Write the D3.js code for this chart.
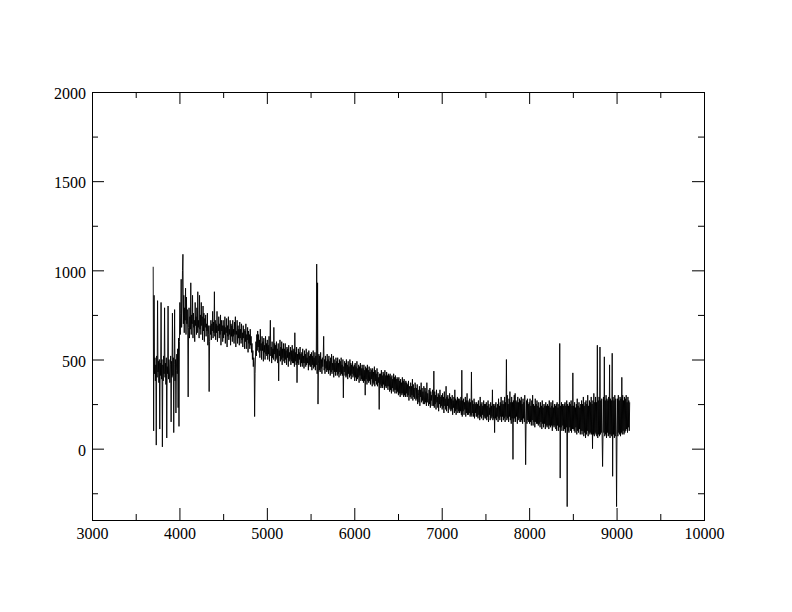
<!DOCTYPE html>
<html>
<head>
<meta charset="utf-8">
<script src="https://cdn.jsdelivr.net/npm/d3@7"></script>
<style>
  html, body { margin: 0; padding: 0; background: #fff; }
  svg { display: block; }
  svg text { font-family: "Liberation Serif", "Times New Roman", Times, serif !important; font-size: 16px; }
</style>
</head>
<body>
<svg id="chart" width="792" height="612"></svg>
<script>
// ---- data ----
const lambdaStart = 3700;   // first wavelength sample (Å)
const lambdaStep = 5;       // sample spacing (Å)
const flux = [
  // 3700
  1020, 100, 860, 420, 510, 380, 470, 20, 520, 400, 830, 430, 490, 370, 500, 110, 480, 410, 820, 390,
  // 3800
  500, 10, 470, 380, 520, 420, 790, 400, 480, 360, 510, 60, 460, 420, 800, 390, 500, 430, 370, 470,
  // 3900
  520, 150, 490, 400, 760, 410, 510, 90, 470, 780, 380, 500, 200, 440, 530, 420, 560, 230, 620, 125,
  // 4000
  600, 820, 640, 760, 950, 680, 800, 1000, 1090, 700, 860, 650, 790, 720, 900, 640, 850, 700, 780, 660,
  // 4100
  290, 680, 790, 620, 740, 670, 930, 640, 750, 700, 860, 620, 760, 680, 720, 600, 820, 690, 740, 640,
  // 4200
  790, 650, 880, 680, 720, 620, 860, 670, 750, 640, 820, 690, 740, 610, 800, 660, 760, 600, 730, 680,
  // 4300
  750, 630, 700, 660, 760, 580, 690, 640, 320, 600, 690, 640, 720, 610, 700, 660, 770, 620, 710, 650,
  // 4400
  880, 630, 720, 610, 700, 650, 770, 600, 690, 660, 740, 620, 700, 640, 750, 580, 720, 660, 690, 600,
  // 4500
  720, 620, 690, 640, 740, 590, 680, 650, 730, 570, 690, 630, 740, 610, 670, 640, 720, 580, 700, 630,
  // 4600
  690, 600, 720, 630, 670, 590, 710, 640, 740, 570, 660, 640, 720, 590, 690, 620, 670, 580, 710, 620,
  // 4700
  670, 590, 700, 610, 650, 570, 690, 620, 670, 560, 660, 600, 700, 560, 640, 610, 680, 540, 660, 590,
  // 4800
  640, 560, 670, 580, 630, 540, 590, 500, 550, 460, 510, 480, 180, 420, 520, 600, 520, 640, 550, 660,
  // 4900
  570, 640, 540, 610, 510, 670, 550, 590, 500, 630, 550, 600, 490, 620, 540, 580, 500, 630, 530, 590,
  // 5000
  520, 610, 500, 580, 530, 630, 490, 590, 720, 520, 570, 480, 600, 510, 560, 500, 680, 530, 590, 490,
  // 5100
  580, 500, 600, 510, 560, 480, 590, 380, 550, 520, 610, 490, 570, 500, 600, 470, 560, 510, 590, 490,
  // 5200
  560, 480, 590, 500, 550, 470, 570, 510, 560, 460, 580, 490, 540, 500, 570, 470, 550, 490, 580, 480,
  // 5300
  550, 480, 560, 460, 650, 490, 540, 470, 570, 370, 530, 480, 560, 470, 540, 500, 570, 460, 530, 480,
  // 5400
  540, 460, 560, 480, 520, 450, 550, 480, 530, 460, 560, 470, 510, 480, 540, 440, 550, 470, 520, 460,
  // 5500
  530, 460, 540, 440, 520, 470, 550, 450, 510, 460, 540, 440, 520, 470, 1035, 420, 930, 250, 480, 530,
  // 5600
  440, 520, 430, 540, 450, 500, 420, 510, 460, 520, 630, 440, 500, 420, 520, 450, 490, 430, 530, 440,
  // 5700
  500, 420, 520, 440, 490, 410, 510, 430, 530, 420, 480, 440, 520, 400, 500, 430, 480, 410, 510, 430,
  // 5800
  490, 410, 510, 420, 480, 400, 500, 430, 490, 410, 510, 420, 470, 410, 500, 285, 460, 430, 490, 410,
  // 5900
  480, 400, 500, 410, 470, 390, 490, 420, 460, 400, 500, 410, 480, 390, 470, 420, 490, 400, 460, 410,
  // 6000
  470, 380, 480, 400, 460, 380, 490, 390, 450, 400, 470, 370, 460, 410, 480, 380, 450, 390, 470, 380,
  // 6100
  450, 370, 470, 380, 440, 300, 460, 390, 450, 360, 470, 380, 440, 370, 460, 380, 430, 360, 450, 390,
  // 6200
  440, 350, 450, 370, 430, 360, 460, 350, 440, 380, 420, 360, 450, 350, 430, 370, 400, 220, 420, 360,
  // 6300
  420, 340, 440, 350, 410, 340, 430, 360, 420, 330, 440, 350, 410, 340, 430, 350, 410, 330, 420, 350,
  // 6400
  410, 320, 420, 330, 400, 310, 410, 340, 390, 320, 420, 330, 400, 310, 410, 330, 390, 310, 400, 320,
  // 6500
  390, 300, 400, 310, 380, 290, 390, 310, 370, 300, 400, 310, 380, 290, 390, 300, 370, 290, 380, 310,
  // 6600
  370, 290, 360, 300, 380, 270, 350, 330, 290, 370, 280, 350, 300, 390, 270, 360, 290, 340, 280, 370,
  // 6700
  350, 270, 340, 280, 360, 250, 330, 300, 260, 350, 240, 330, 290, 370, 260, 340, 270, 320, 250, 350,
  // 6800
  330, 250, 340, 260, 320, 240, 370, 260, 310, 280, 240, 330, 250, 340, 230, 320, 270, 300, 240, 330,
  // 6900
  310, 240, 435, 230, 320, 250, 300, 220, 330, 260, 290, 230, 310, 210, 300, 250, 330, 230, 290, 240,
  // 7000
  300, 220, 310, 230, 290, 200, 320, 240, 280, 220, 350, 210, 290, 240, 300, 200, 280, 230, 310, 220,
  // 7100
  290, 210, 280, 220, 300, 190, 270, 230, 290, 200, 330, 210, 280, 190, 270, 220, 290, 200, 280, 210,
  // 7200
  280, 200, 270, 210, 290, 190, 440, 180, 270, 210, 280, 190, 260, 220, 290, 180, 270, 200, 310, 190,
  // 7300
  270, 190, 260, 200, 280, 180, 260, 190, 430, 180, 270, 200, 250, 180, 280, 170, 260, 200, 250, 180,
  // 7400
  260, 180, 250, 170, 270, 190, 240, 160, 290, 180, 250, 170, 260, 190, 240, 160, 270, 180, 250, 170,
  // 7500
  250, 170, 260, 160, 240, 180, 270, 150, 250, 190, 230, 160, 260, 170, 240, 180, 330, 160, 250, 170,
  // 7600
  240, 90, 250, 170, 260, 160, 230, 180, 250, 150, 280, 170, 240, 160, 260, 180, 290, 150, 250, 180,
  // 7700
  270, 160, 250, 170, 290, 150, 260, 180, 500, 160, 300, 170, 250, 150, 280, 180, 320, 160, 260, 140,
  // 7800
  290, 170, 260, -60, 270, 150, 300, 170, 310, 150, 270, 180, 260, 140, 290, 160, 260, 170, 280, 150,
  // 7900
  270, 150, 290, 160, 250, 140, 280, 170, 260, 150, 300, 160, -90, 150, 270, 140, 280, 160, 250, 150,
  // 8000
  260, 140, 280, 150, 240, 130, 270, 160, 300, 130, 250, 150, 240, 120, 280, 150, 250, 140, 270, 140,
  // 8100
  240, 130, 260, 140, 230, 120, 260, 150, 240, 110, 270, 140, 230, 120, 250, 140, 240, 110, 260, 130,
  // 8200
  240, 120, 250, 130, 240, 110, 270, 130, 230, 120, 260, 130, 240, 100, 270, 130, 230, 120, 250, 130,
  // 8300
  240, 110, 250, 100, 260, 130, 230, 100, 250, 120, 590, -165, 240, 120, 260, 100, 250, 130, 240, 100,
  // 8400
  250, 110, 260, 90, 240, 120, 270, -325, 250, 100, 240, 90, 260, 120, 250, 100, 270, 90, 240, 110,
  // 8500
  425, 110, 240, 100, 260, 90, 230, 120, 250, 80, 280, 100, 240, 90, 260, 110, 230, 80, 250, 100,
  // 8600
  270, 80, 250, 100, 290, 70, 240, 90, 260, 60, 270, 80, 250, 100, 300, 70, 240, 90, 270, 80,
  // 8700
  260, 90, 290, 80, 250, 0, 270, 80, 310, 70, 260, 90, 290, 80, 260, 70, 580, 60, 270, 80,
  // 8800
  290, 70, 570, 80, 270, 90, 280, 60, -100, 80, 290, 90, 515, 70, 270, 80, 300, 60, 280, 90,
  // 8900
  270, 70, 290, 80, 470, 60, 280, 80, 270, 70, 535, -155, 290, 80, 270, 60, 300, 70, 280, 80,
  // 9000
  -325, 80, 280, 70, 300, 90, 270, 80, 290, 70, 280, 90, 400, 80, 300, 100, 270, 80, 290, 90,
  // 9100
  280, 100, 300, 110, 260, 90, 290, 120, 270, 100, 260
];
const xMajorTicks = [3000, 4000, 5000, 6000, 7000, 8000, 9000, 10000];
const xMinorTicks = [3500, 4500, 5500, 6500, 7500, 8500, 9500];
const yMajorTicks = [0, 500, 1000, 1500, 2000];
const yMinorTicks = [-250, 250, 750, 1250, 1750];

// ---- layout ----
const margin = { left: 92, right: 704, top: 92, bottom: 520 };
const svg = d3.select("#chart");
const FONT = "Liberation Serif, Times New Roman, Times, serif";

const x = d3.scaleLinear().domain([3000, 10000]).range([margin.left, margin.right]);
const y = d3.scaleLinear().domain([-400, 2000]).range([margin.bottom, margin.top]);

const points = flux.map((f, i) => ({ w: lambdaStart + i * lambdaStep, f }));

// spectrum line
const line = d3.line().x(d => x(d.w)).y(d => y(d.f));
svg.append("path")
  .datum(points)
  .attr("d", line)
  .attr("fill", "none")
  .attr("stroke", "#000")
  .attr("stroke-width", 0.9);

// axes (ticks pointing inward, Grace style)
function styleAxis(g) {
  g.attr("font-family", null).attr("font-size", null);
  g.select(".domain").remove();
  g.selectAll(".tick line").attr("stroke", "#000").attr("stroke-width", 1);
  g.selectAll(".tick text").attr("fill", "#000")
    .style("font-family", FONT).style("font-size", "16px");
}
const fmt = d3.format("d");

svg.append("g").attr("transform", `translate(0,${margin.bottom})`)
  .call(d3.axisBottom(x).tickValues(xMajorTicks).tickSize(-12).tickPadding(8).tickFormat(fmt))
  .call(styleAxis);
svg.append("g").attr("transform", `translate(0,${margin.bottom})`)
  .call(d3.axisBottom(x).tickValues(xMinorTicks).tickSize(-6).tickFormat(""))
  .call(styleAxis);
svg.append("g").attr("transform", `translate(0,${margin.top})`)
  .call(d3.axisTop(x).tickValues(xMajorTicks).tickSize(-12).tickFormat(""))
  .call(styleAxis);
svg.append("g").attr("transform", `translate(0,${margin.top})`)
  .call(d3.axisTop(x).tickValues(xMinorTicks).tickSize(-6).tickFormat(""))
  .call(styleAxis);

svg.append("g").attr("transform", `translate(${margin.left},0)`)
  .call(d3.axisLeft(y).tickValues(yMajorTicks).tickSize(-12).tickPadding(6).tickFormat(fmt))
  .call(styleAxis)
  .call(g => g.selectAll(".tick text").attr("dy", "0.42em"));
svg.append("g").attr("transform", `translate(${margin.left},0)`)
  .call(d3.axisLeft(y).tickValues(yMinorTicks).tickSize(-6).tickFormat(""))
  .call(styleAxis);
svg.append("g").attr("transform", `translate(${margin.right},0)`)
  .call(d3.axisRight(y).tickValues(yMajorTicks).tickSize(-12).tickFormat(""))
  .call(styleAxis);
svg.append("g").attr("transform", `translate(${margin.right},0)`)
  .call(d3.axisRight(y).tickValues(yMinorTicks).tickSize(-6).tickFormat(""))
  .call(styleAxis);

// frame
svg.append("rect")
  .attr("x", margin.left + 0.5).attr("y", margin.top + 0.5)
  .attr("width", margin.right - margin.left).attr("height", margin.bottom - margin.top)
  .attr("fill", "none").attr("stroke", "#000").attr("stroke-width", 1);
</script>
</body>
</html>
